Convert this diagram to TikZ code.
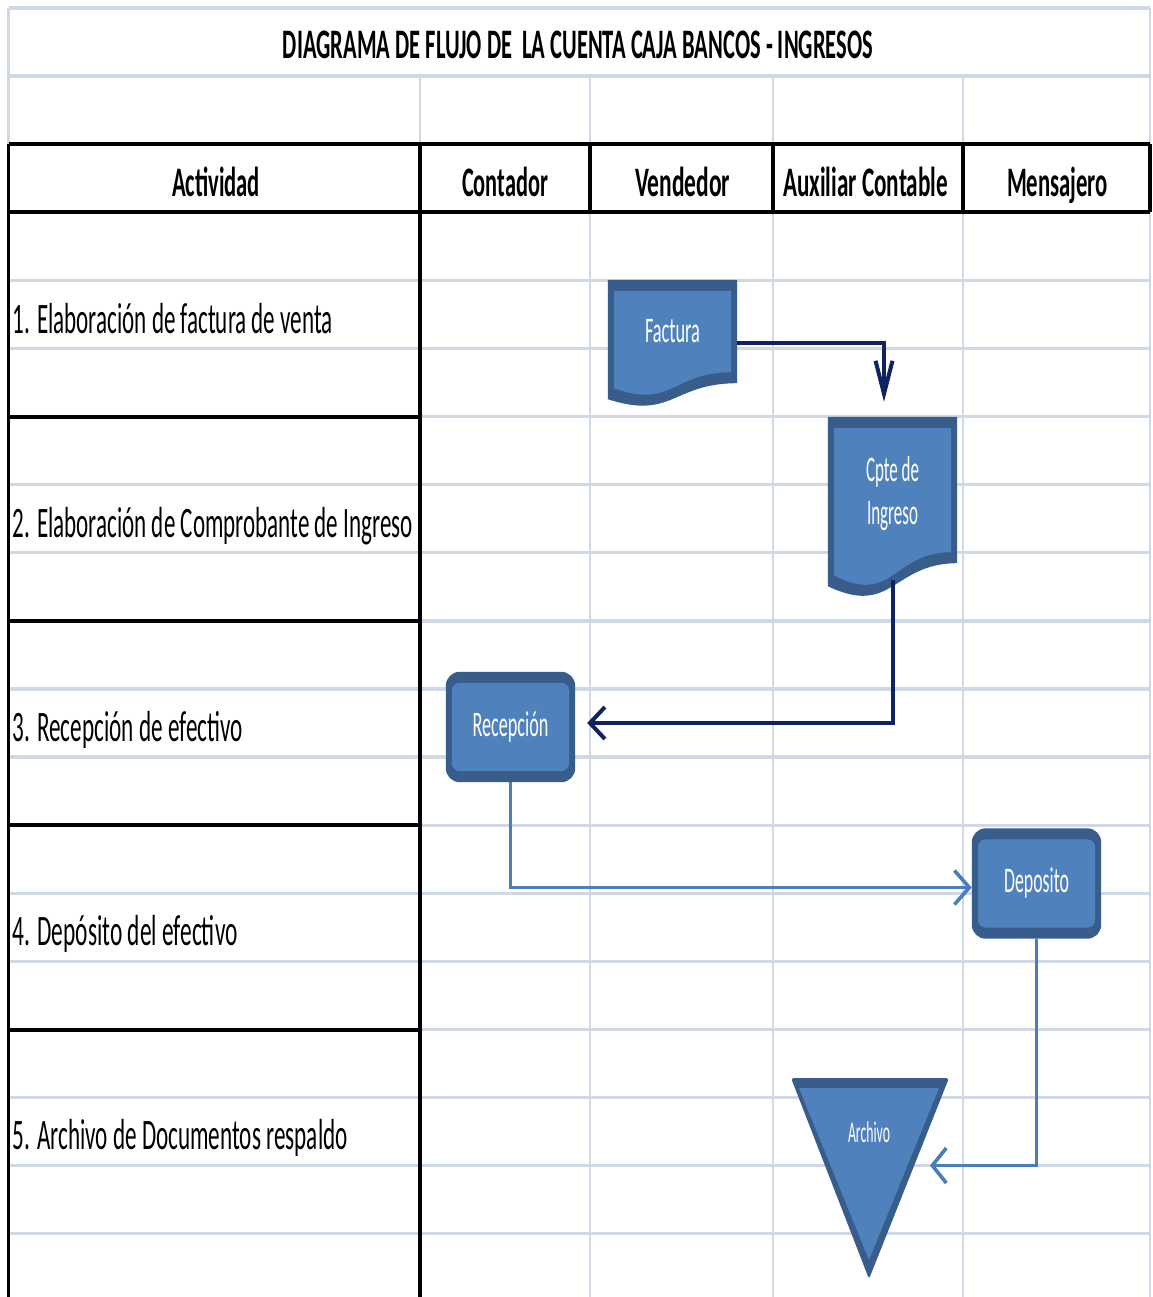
\documentclass[tikz,border=0pt]{standalone}
\usepackage{graphicx}
\usepackage{fontspec}
\setmainfont{Carlito}
\usetikzlibrary{arrows.meta,calc}
\pgfdeclarelayer{gridlayer}
\pgfdeclarelayer{shapelayer}
\pgfsetlayers{gridlayer,shapelayer,main}
\definecolor{gridgray}{RGB}{208,215,229}
\definecolor{shpfill}{RGB}{79,129,189}
\definecolor{shpline}{RGB}{56,93,138}
\definecolor{navyc}{RGB}{16,34,96}
\definecolor{conblue}{RGB}{74,126,187}
\newcommand\tx[2]{\resizebox{#1pt}{\height}{#2}}
\tikzset{
  gridh/.style={draw=gridgray, line width=3.3pt},
  gridv/.style={draw=gridgray, line width=2.7pt},
  blackh/.style={draw=black, line width=4pt},
  blackv/.style={draw=black, line width=3.2pt},
  lbl/.style={anchor=base west, inner sep=0pt, font=\fontsize{43.5}{43.5}\selectfont},
  hdr/.style={anchor=base, inner sep=0pt, font=\bfseries\fontsize{42}{42}\selectfont},
  shpbox/.style={draw=none, inner sep=0pt, minimum width=129pt, text=white, align=center,
    font=\fontsize{36}{43}\selectfont},
  navyline/.style={draw=navyc, line width=4pt},
  blueline/.style={draw=conblue, line width=3.6pt},
}
\begin{document}
\begin{tikzpicture}[x=1pt,y=-1pt]
\useasboundingbox (0,0) rectangle (1152,1297);
% ---------------- grid ----------------
\begin{pgfonlayer}{gridlayer}
\fill[white] (0,0) rectangle (1152,1297);
\foreach \y in {8,76.1,280.4,348.5,416.6,484.7,552.8,620.9,689,757.1,825.2,893.3,961.4,1029.5,1097.6,1165.7,1233.8}
  \draw[gridh] (8.5,\y) -- (1150,\y);
\draw[gridv] (8.5,8) -- (8.5,144.2);
\draw[gridv] (1150,8) -- (1150,1297);
\foreach \x in {420,590,773,963} \draw[gridv] (\x,76.1) -- (\x,144.2);
\foreach \x in {590,773,963} \draw[gridv] (\x,212.3) -- (\x,1297);
\draw[blackh] (8.5,144.2) -- (1150,144.2);
\draw[blackh] (8.5,212.3) -- (1150,212.3);
\foreach \y in {416.6,620.9,825.2,1029.5} \draw[blackh] (8.5,\y) -- (420,\y);
\draw[blackv] (8.5,144.2) -- (8.5,1297);
\draw[blackv] (420,144.2) -- (420,1297);
\foreach \x in {590,773,963,1150} \draw[blackv] (\x,144.2) -- (\x,212.3);
\end{pgfonlayer}
% ---------------- texts ----------------
\node[hdr] (title) at (578,58.5) {\tx{590}{DIAGRAMA DE FLUJO DE\ \ LA CUENTA CAJA BANCOS - INGRESOS}};
\node[hdr] (hact) at (216,196.5) {\tx{88}{Actividad}};
\node[hdr] (hcon) at (505,196.5) {\tx{86}{Contador}};
\node[hdr] (hven) at (682.5,196.5) {\tx{95}{Vendedor}};
\node[hdr] (haux) at (865.5,196.5) {\tx{165}{Auxiliar Contable}};
\node[hdr] (hmen) at (1057.5,196.5) {\tx{101}{Mensajero}};
\node[lbl] (a1) at (12.5,333) {\tx{320}{1. Elaboración de factura de venta}};
\node[lbl] (a2) at (12.5,537) {\tx{400}{2. Elaboración de Comprobante de Ingreso}};
\node[lbl] (a3) at (12.5,741) {\tx{230}{3. Recepción de efectivo}};
\node[lbl] (a4) at (12.5,945) {\tx{225}{4. Depósito del efectivo}};
\node[lbl] (a5) at (12.5,1149) {\tx{335}{5. Archivo de Documentos respaldo}};
% ---------------- shapes ----------------
\node[shpbox, minimum height=103pt] (fact) at (672.5,331.5) {\tx{55}{Factura}};
\node[shpbox, minimum height=146pt, text depth=0pt] (cpte) at (892.5,490) {\tx{53}{Cpte de}\\\tx{51}{Ingreso}};
\node[shpbox, minimum height=110pt] (rec) at (510.5,727) {\tx{76}{Recepción}};
\node[shpbox, minimum height=110pt] (dep) at (1036.5,883.5) {\tx{65}{Deposito}};
\node[inner sep=0pt, text=white, font=\fontsize{30}{30}\selectfont] (arch) at (869,1132.5) {\tx{42}{Archivo}};
\coordinate (archin) at (930,1165.5);
\begin{pgfonlayer}{shapelayer}
% Factura (document)
\fill[shpline] (fact.north west) -- (fact.north east) -- (fact.south east)
  .. controls (fact.south) and ($(fact.south)+(0,37)$) .. ($(fact.south west)+(0,16)$) -- cycle;
\fill[shpfill] ($(fact.north west)+(6,11)$) -- ($(fact.north east)+(-6,11)$) -- ($(fact.south east)+(-6,-11)$)
  .. controls ($(fact.south)+(0,-11)$) and ($(fact.south)+(0,26)$) .. ($(fact.south west)+(6,5)$) -- cycle;
% Cpte de Ingreso (document)
\fill[shpline] (cpte.north west) -- (cpte.north east) -- (cpte.south east)
  .. controls (cpte.south) and ($(cpte.south)+(0,54)$) .. ($(cpte.south west)+(0,23)$) -- cycle;
\fill[shpfill] ($(cpte.north west)+(6,11)$) -- ($(cpte.north east)+(-6,11)$) -- ($(cpte.south east)+(-6,-11)$)
  .. controls ($(cpte.south)+(0,-11)$) and ($(cpte.south)+(0,43)$) .. ($(cpte.south west)+(6,12)$) -- cycle;
% Recepcion
\fill[shpline, rounded corners=14pt] (rec.north west) rectangle (rec.south east);
\fill[shpfill, rounded corners=8pt] ($(rec.north west)+(6,11)$) rectangle ($(rec.south east)+(-6,-11)$);
% Deposito
\fill[shpline, rounded corners=14pt] (dep.north west) rectangle (dep.south east);
\fill[shpfill, rounded corners=8pt] ($(dep.north west)+(6,11)$) rectangle ($(dep.south east)+(-6,-11)$);
% Archivo (triangle)
\fill[shpline, rounded corners=3pt] (791,1078) -- (949,1078) -- (869,1279) -- cycle;
\fill[shpfill] (799,1088) -- (939,1088) -- (869,1260) -- cycle;
\end{pgfonlayer}
% ---------------- connectors ----------------
\draw[navyline, -{Straight Barb[length=33pt,width=17pt]}]
  ([yshift=-11.5pt]fact.east) -| ([xshift=-8.5pt,yshift=15pt]cpte.north);
\draw[navyline, -{Straight Barb[length=15pt,width=32pt]}]
  ([yshift=-17pt]cpte.south) |- ([xshift=12pt,yshift=4pt]rec.east);
\draw[blueline, -{Straight Barb[length=15pt,width=34pt]}]
  (rec.south) |- ([yshift=-4pt]dep.west);
\draw[blueline, -{Straight Barb[length=14pt,width=35pt]}]
  (dep.south) |- (archin);
\end{tikzpicture}
\end{document}
